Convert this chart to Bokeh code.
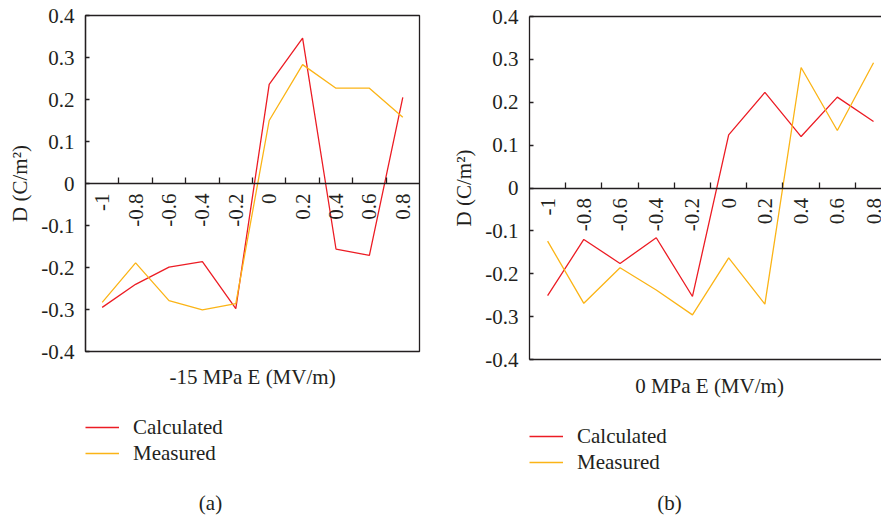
from math import pi
from bokeh.plotting import figure
from bokeh.layouts import row, column
from bokeh.models import Range1d, FixedTicker, LinearAxis, Legend, LegendItem, Label
from bokeh.embed import file_html
from bokeh.resources import INLINE

# ---------------- data ----------------
categories = ["-1", "-0.8", "-0.6", "-0.4", "-0.2", "0", "0.2", "0.4", "0.6", "0.8"]
y_ticks = [-0.4, -0.3, -0.2, -0.1, 0.0, 0.1, 0.2, 0.3, 0.4]
y_tick_labels = ["-0.4", "-0.3", "-0.2", "-0.1", "0", "0.1", "0.2", "0.3", "0.4"]

a_calculated = [-0.295, -0.240, -0.199, -0.186, -0.298, 0.236, 0.346, -0.156, -0.171, 0.205]
a_measured = [-0.283, -0.189, -0.279, -0.301, -0.286, 0.150, 0.283, 0.227, 0.227, 0.158]
b_calculated = [-0.251, -0.120, -0.176, -0.116, -0.253, 0.124, 0.223, 0.120, 0.212, 0.155]
b_measured = [-0.124, -0.269, -0.186, -0.238, -0.296, -0.163, -0.271, 0.281, 0.134, 0.292]

series_names = ["Calculated", "Measured"]
x_titles = ["-15 MPa E (MV/m)", "0 MPa E (MV/m)"]
captions = ["(a)", "(b)"]
y_title = "D (C/m\u00b2)"

# ---------------- style ----------------
FONT = "Liberation Serif"
FS = "21px"
INK = "#231f20"
RED = "#ec1c24"
ORANGE = "#fbb416"
LW = 1.3


def chart(calc, meas, width, frame_w, frame_h, x_end, mb_left, mb_top, mb_bottom, outline):
    p = figure(width=width, height=mb_top + frame_h + mb_bottom,
               frame_width=frame_w, frame_height=frame_h,
               x_range=Range1d(-0.5, x_end), y_range=Range1d(-0.4, 0.4),
               output_backend="svg", toolbar_location=None,
               min_border_left=mb_left, min_border_right=width - mb_left - frame_w,
               min_border_top=mb_top, min_border_bottom=mb_bottom)
    p.grid.visible = False
    p.background_fill_color = "white"
    p.border_fill_color = "white"
    p.outline_line_color = INK if outline else None
    p.outline_line_width = LW

    centers = list(range(len(categories)))
    bounds = [i + 0.5 for i in range(len(categories) - 1)]

    xa = p.xaxis[0]
    xa.fixed_location = 0
    xa.ticker = FixedTicker(ticks=centers, minor_ticks=bounds)
    xa.major_label_overrides = {c: lab for c, lab in zip(centers, categories)}
    xa.major_tick_line_color = None
    xa.major_tick_in = 0
    xa.major_tick_out = 0
    xa.minor_tick_line_color = INK
    xa.minor_tick_line_width = LW
    xa.minor_tick_in = 6
    xa.minor_tick_out = 0
    xa.major_label_orientation = pi / 2
    xa.major_label_standoff = 10
    xa.major_label_text_font = FONT
    xa.major_label_text_font_size = FS
    xa.major_label_text_color = INK
    xa.axis_line_color = INK
    xa.axis_line_width = LW

    ya = p.yaxis[0]
    ya.ticker = FixedTicker(ticks=y_ticks)
    ya.major_label_overrides = {v: lab for v, lab in zip(y_ticks, y_tick_labels)}
    ya.major_tick_in = 4
    ya.major_tick_out = 0
    ya.major_tick_line_color = INK
    ya.major_tick_line_width = LW
    ya.minor_tick_line_color = None
    ya.major_label_standoff = 11
    ya.major_label_text_font = FONT
    ya.major_label_text_font_size = FS
    ya.major_label_text_color = INK
    ya.axis_line_color = INK
    ya.axis_line_width = LW
    ya.axis_label = y_title
    ya.axis_label_text_font = FONT
    ya.axis_label_text_font_size = FS
    ya.axis_label_text_font_style = "normal"
    ya.axis_label_text_color = INK
    ya.axis_label_standoff = 6

    if not outline:
        for side in ("above", "below"):
            border = LinearAxis(ticker=FixedTicker(ticks=[]),
                                axis_line_color=INK, axis_line_width=LW,
                                major_tick_line_color=None, minor_tick_line_color=None,
                                major_tick_in=0, major_tick_out=0,
                                major_label_standoff=0,
                                major_label_text_font_size="0px")
            p.add_layout(border, side)

    p.line(centers, calc, line_color=RED, line_width=LW)
    p.line(centers, meas, line_color=ORANGE, line_width=LW)
    return p


def footer(width, height, frame_w, mb_left, xtitle, xtitle_xy, legend_vy, caption, caption_xy):
    # x coordinates are pixels from the chart frame's left edge, y pixels from the top
    f = figure(width=width, height=height, frame_width=frame_w, frame_height=height,
               x_range=Range1d(0, frame_w), y_range=Range1d(height, 0),
               x_axis_type=None, y_axis_type=None,
               output_backend="svg", toolbar_location=None,
               min_border_left=mb_left, min_border_right=width - mb_left - frame_w,
               min_border_top=0, min_border_bottom=0)
    f.grid.visible = False
    f.outline_line_color = None
    f.background_fill_color = "white"
    f.border_fill_color = "white"

    f.add_layout(Label(x=xtitle_xy[0], y=xtitle_xy[1], text=xtitle,
                       text_align="center", text_baseline="middle",
                       text_font=FONT, text_font_size=FS, text_color=INK))
    f.add_layout(Label(x=caption_xy[0], y=caption_xy[1], text=caption,
                       text_align="center", text_baseline="middle",
                       text_font=FONT, text_font_size=FS, text_color=INK))

    # legend keys: renderers holding no visible point, only the series' line style
    nan = float("nan")
    k1 = f.line(x=[nan], y=[nan], line_color=RED, line_width=LW)
    k2 = f.line(x=[nan], y=[nan], line_color=ORANGE, line_width=LW)
    legend = Legend(items=[LegendItem(label=series_names[0], renderers=[k1]),
                           LegendItem(label=series_names[1], renderers=[k2])],
                    location=(0, legend_vy), orientation="vertical",
                    glyph_width=34, glyph_height=20, label_height=20,
                    label_standoff=14, spacing=1, padding=0, margin=0,
                    border_line_color=None, background_fill_alpha=0,
                    label_text_font=FONT, label_text_font_size=FS,
                    label_text_color=INK)
    f.add_layout(legend)
    return f


PAD_A = 12
PAD_B = 12
pa = chart(a_calculated, a_measured, width=445, frame_w=334, frame_h=336,
           x_end=9.5, mb_left=85, mb_top=15, mb_bottom=PAD_A, outline=True)
fa = footer(445, 166 - PAD_A, 334, 85, x_titles[0], (167, 25 - PAD_A), 51.5,
            captions[0], (125, 151 - PAD_A))

pb = chart(b_calculated, b_measured, width=436, frame_w=352, frame_h=343,
           x_end=9.22, mb_left=84, mb_top=16, mb_bottom=PAD_B, outline=False)
fb = footer(436, 158 - PAD_B, 352, 84, x_titles[1], (180, 14), 42.5,
            captions[1], (140, 143 - PAD_B))

layout = row(column(pa, fa), column(pb, fb))
open("out.html", "w").write(file_html(layout, INLINE))
